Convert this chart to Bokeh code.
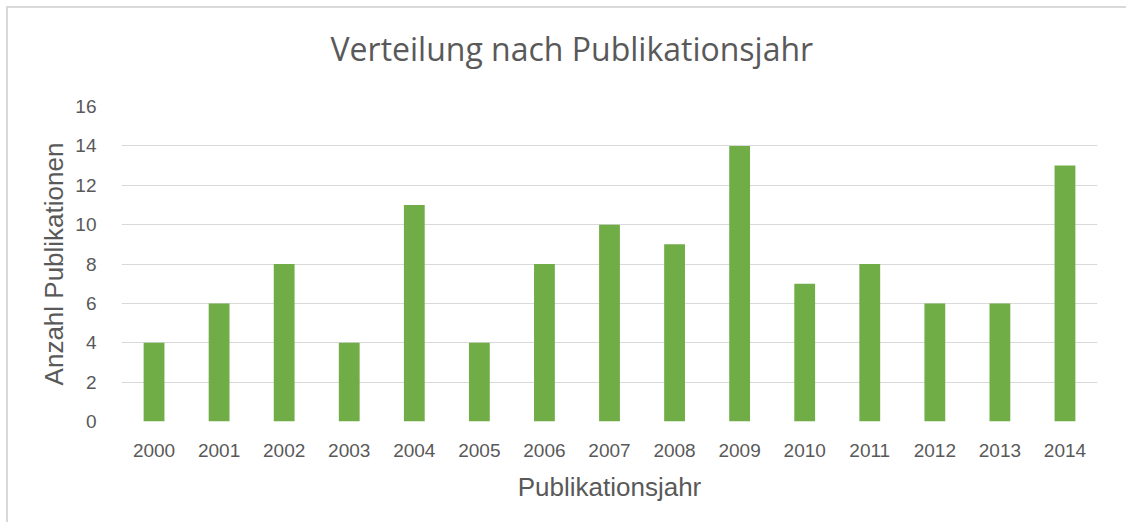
from bokeh.plotting import figure
from bokeh.models import ColumnDataSource, FixedTicker, Title
from bokeh.embed import file_html
from bokeh.resources import INLINE

years = ["2000", "2001", "2002", "2003", "2004", "2005", "2006", "2007",
         "2008", "2009", "2010", "2011", "2012", "2013", "2014"]
counts = [4, 6, 8, 4, 11, 4, 8, 10, 9, 14, 7, 8, 6, 6, 13]
y_ticks = [0, 2, 4, 6, 8, 10, 12, 14, 16]
title_text = "Verteilung nach Publikationsjahr"

FONT = "Liberation Sans"
GREY = "#595959"

src = ColumnDataSource(data=dict(years=years, counts=counts))

p = figure(x_range=years, y_range=(0, 16), width=1120, height=516,
           output_backend="svg", toolbar_location=None,
           title=title_text,
           min_border_left=113, min_border_right=31,
           min_border_top=98, min_border_bottom=103)
p.styles = {"margin-left": "6px", "margin-top": "6px",
            "border-left": "2px solid #d9d9d9", "border-top": "2px solid #d9d9d9"}

p.title.align = "left"
p.title.offset = 209
p.title.text_font = "Open Sans"
p.title.text_font_size = "32px"
p.title.text_font_style = "normal"
p.title.text_color = GREY
p.title.standoff = 20

# invisible spacer between title and plot area
spacer = Title(text="\u00a0", text_font_size="2px", standoff=23)
p.add_layout(spacer, "above")

p.vbar(x="years", top="counts", width=0.32, source=src,
       fill_color="#70ad47", line_color=None)

p.outline_line_color = None
p.xgrid.grid_line_color = None
p.ygrid.grid_line_color = "#d9d9d9"
p.ygrid.grid_line_width = 1
p.yaxis.ticker = FixedTicker(ticks=y_ticks)

for ax in (p.xaxis, p.yaxis):
    ax.axis_line_color = None
    ax.major_tick_line_color = None
    ax.minor_tick_line_color = None
    ax.major_label_text_font = FONT
    ax.major_label_text_font_size = "19px"
    ax.major_label_text_color = GREY
    ax.axis_label_text_font = FONT
    ax.axis_label_text_font_size = "26px"
    ax.axis_label_text_color = GREY
    ax.axis_label_text_font_style = "normal"

p.xaxis.axis_label = "Publikationsjahr"
p.yaxis.axis_label = "Anzahl Publikationen"
p.xaxis.major_label_standoff = 16
p.xaxis.axis_label_standoff = 12
p.yaxis.major_label_standoff = 19
p.yaxis.axis_label_standoff = 3

open("out.html", "w").write(file_html(p, INLINE))
